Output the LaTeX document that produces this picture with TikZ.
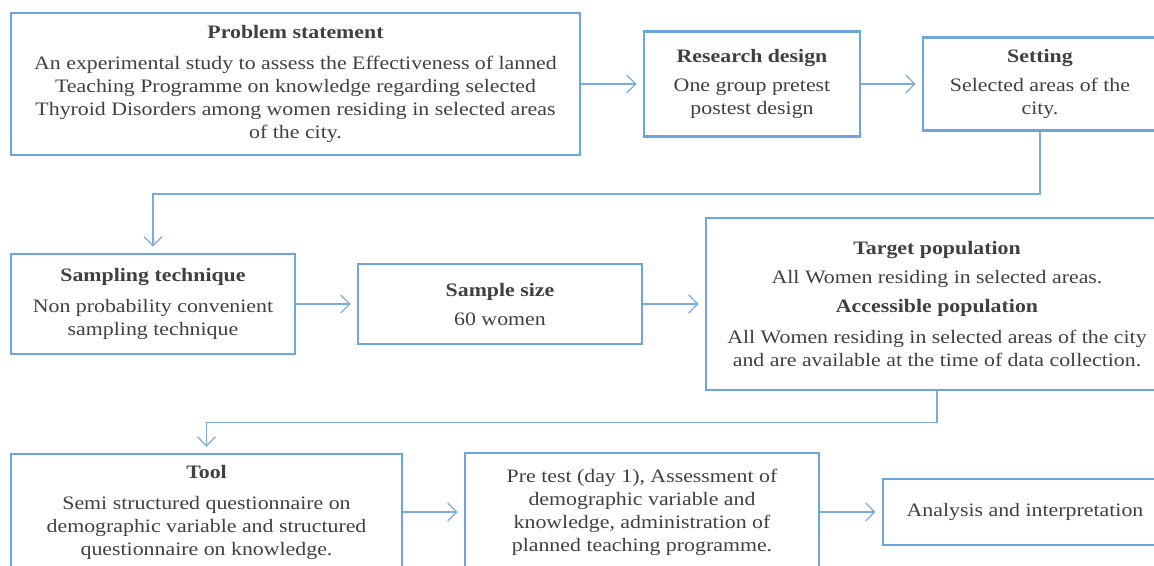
\documentclass[tikz,border=0pt]{standalone}
\usepackage{fontspec}
\setmainfont[FakeStretch=1.15]{Liberation Serif}
\usetikzlibrary{arrows.meta}
\definecolor{boxblue}{RGB}{108,166,220}
\definecolor{lineblue}{RGB}{122,172,224}
\definecolor{txt}{RGB}{64,64,64}
\tikzset{
  fbox/.style={draw=boxblue, line width=2.9pt, inner sep=0pt, align=center, text=txt,
    font=\fontsize{19}{23}\selectfont},
  arr/.style={draw=lineblue, line width=1.2pt, -{Straight Barb[length=9pt,width=18pt,line width=1.2pt]}, shorten >=6pt},
  ln/.style={draw=lineblue, line width=1.2pt}
}
\begin{document}
\begin{tikzpicture}[x=1pt,y=-1pt]
\useasboundingbox (0,0) rectangle (1154,565);
\clip (0,0) rectangle (1154,565);
\node[fbox, minimum width=569pt, minimum height=142pt] (ps) at (295.5,84)
  {\textbf{Problem statement}\\[8pt]
   An experimental study to assess the Effectiveness of lanned\\
   Teaching Programme on knowledge regarding selected\\
   Thyroid Disorders among women residing in selected areas\\
   of the city.};
\node[fbox, minimum width=216pt, minimum height=105pt] (rd) at (752,84)
  {\textbf{Research design}\\[6pt] One group pretest\\ postest design};
\node[fbox, minimum width=234pt, minimum height=93pt] (st) at (1040,84)
  {\textbf{Setting}\\[6pt] Selected areas of the\\ city.};
\node[fbox, minimum width=284pt, minimum height=100pt] (smp) at (153,304)
  {\textbf{Sampling technique}\\[8pt] Non probability convenient\\ sampling technique};
\node[fbox, minimum width=284pt, minimum height=80pt] (ss) at (500,304)
  {\textbf{Sample size}\\[6pt] 60 women};
\node[fbox, minimum width=462pt, minimum height=172pt] (tp) at (937,304)
  {\textbf{Target population}\\[6pt] All Women residing in selected areas.\\[6pt]
   \textbf{Accessible population}\\[8pt]
   All Women residing in selected areas of the city\\
   and are available at the time of data collection.};
\node[fbox, minimum width=391pt, minimum height=116pt] (tl) at (206.5,512)
  {\textbf{Tool}\\[8pt] Semi structured questionnaire on\\
   demographic variable and structured\\ questionnaire on knowledge.};
\node[fbox, minimum width=354pt, minimum height=118pt] (pt) at (642,512)
  {Pre test (day 1), Assessment of\\ demographic variable and\\
   knowledge, administration of\\ planned teaching programme.};
\node[fbox, minimum width=284pt, minimum height=66pt] (an) at (1025,512)
  {Analysis and interpretation};
\draw[arr] (ps) -- (rd);
\draw[arr] (rd) -- (st);
\draw[arr] (st.south) -- ++(0,62) -| (smp.north);
\draw[arr] (smp) -- (ss);
\draw[arr] (ss) -- (tp);
\draw[arr] (tp.south) -- ++(0,31) -| (tl.north);
\draw[arr] (tl) -- (pt);
\draw[arr] (pt) -- (an);
\end{tikzpicture}
\end{document}
